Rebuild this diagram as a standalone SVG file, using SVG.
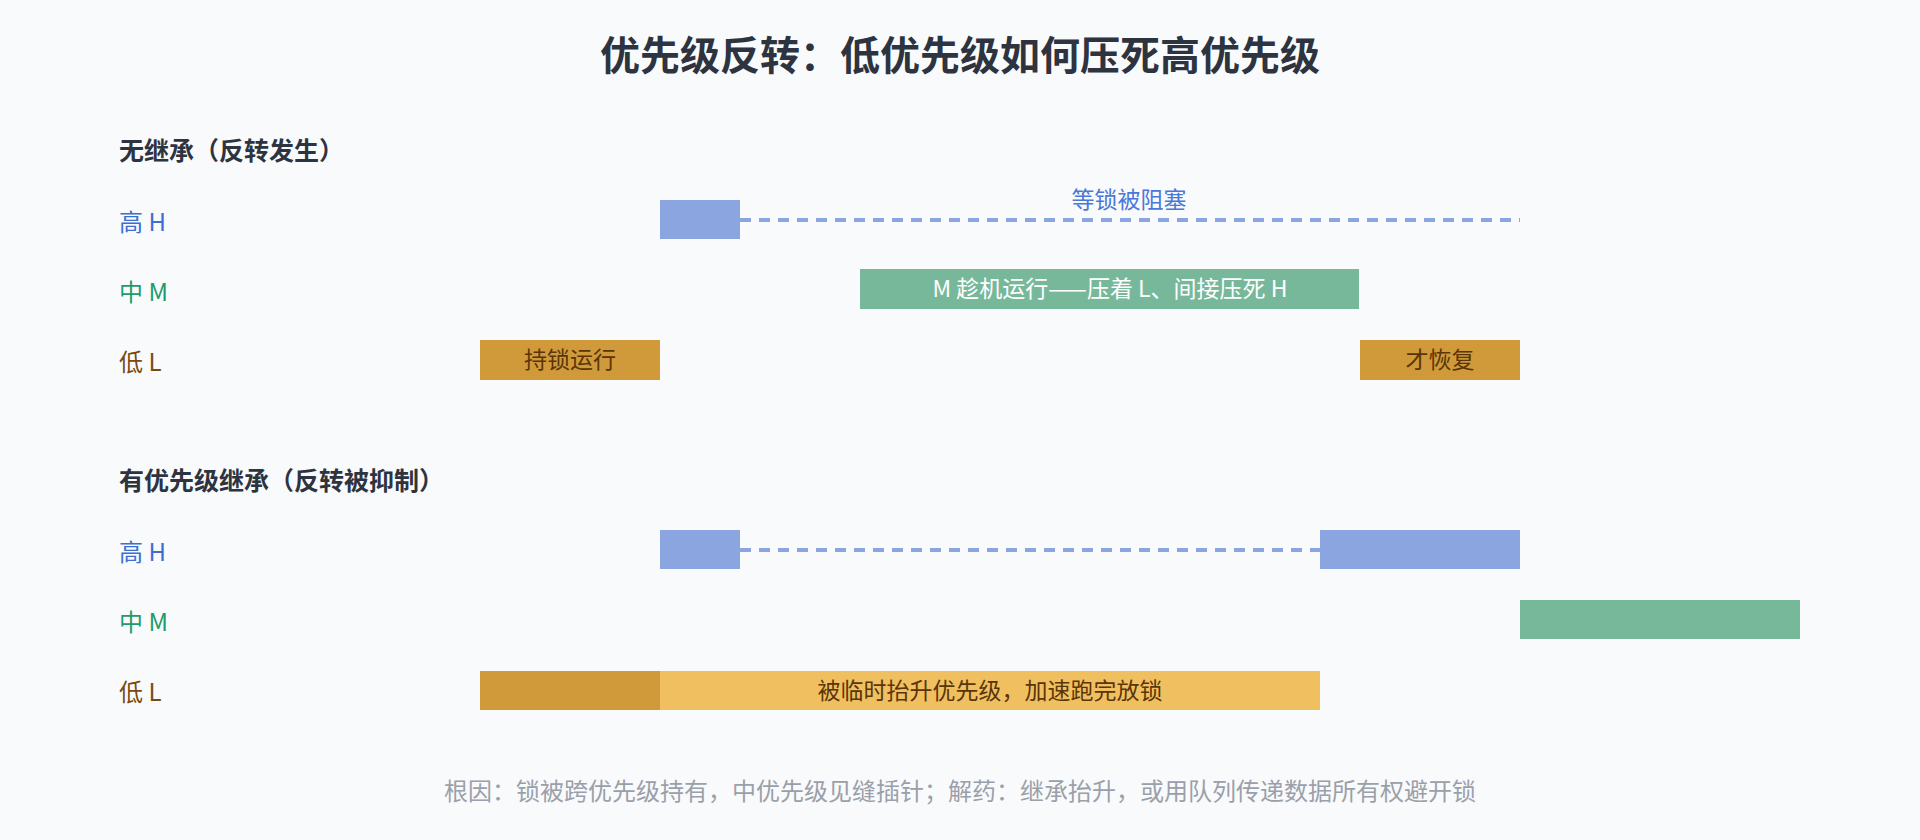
<svg xmlns="http://www.w3.org/2000/svg" width="1920" height="840" viewBox="0 0 1920 840">
<style>
text{font-family:"Noto Sans CJK SC","Noto Sans",sans-serif}
.title{font-size:40px;font-weight:bold;fill:#2d3440}
.sec{font-size:25px;font-weight:bold;fill:#2d3440}
.lh{font-size:24px;fill:#3b6fd0}
.lm{font-size:24px;fill:#1f9a6a}
.ll{font-size:24px;fill:#7a4a10}
.h{fill:#8ba5e0}.m{fill:#78b89a}.l{fill:#d09a3b}.l2{fill:#f0c060}
.bt{font-size:23px;text-anchor:middle}
.dash{stroke:#8ba5e0;stroke-width:4;stroke-dasharray:11 8;fill:none}
</style>
<rect width="1920" height="840" fill="#f9fafc"/>
<text class="title" x="960" y="70" text-anchor="middle">优先级反转：低优先级如何压死高优先级</text>
<g id="sec1">
<text class="sec" x="119" y="160">无继承（反转发生）</text>
<text class="lh" x="119" y="231">高 H</text>
<text class="lm" x="119" y="301">中 M</text>
<text class="ll" x="119" y="371">低 L</text>
</g>
<g id="connectors">
<line class="dash" x1="740" y1="220" x2="1520" y2="220"/>
<line class="dash" x1="740" y1="550" x2="1320" y2="550"/>
</g>
<g id="h1"><rect class="h" x="660" y="200" width="80" height="39"/></g>
<text x="1129" y="208" class="bt" fill="#4a78d8">等锁被阻塞</text>
<g id="m1"><rect class="m" x="860" y="269" width="499" height="40"/><text class="bt" x="1110" y="297" fill="#fff">M 趁机运行——压着 L、间接压死 H</text></g>
<g id="l1a"><rect class="l" x="480" y="340" width="180" height="40"/><text class="bt" x="570" y="368" fill="#5a3508">持锁运行</text></g>
<g id="l1b"><rect class="l" x="1360" y="340" width="160" height="40"/><text class="bt" x="1440" y="368" fill="#5a3508">才恢复</text></g>
<g id="sec2">
<text class="sec" x="119" y="490">有优先级继承（反转被抑制）</text>
<text class="lh" x="119" y="561">高 H</text>
<text class="lm" x="119" y="631">中 M</text>
<text class="ll" x="119" y="701">低 L</text>
</g>
<g id="h2a"><rect class="h" x="660" y="530" width="80" height="39"/></g>
<g id="h2b"><rect class="h" x="1320" y="530" width="200" height="39"/></g>
<g id="m2"><rect class="m" x="1520" y="600" width="280" height="39"/></g>
<g id="l2a"><rect class="l" x="480" y="671" width="180" height="39"/></g>
<g id="l2b"><rect class="l2" x="660" y="671" width="660" height="39"/><text class="bt" x="990" y="699" fill="#5a3508">被临时抬升优先级，加速跑完放锁</text></g>
<text x="960" y="800" text-anchor="middle" font-size="24" fill="#9aa0aa">根因：锁被跨优先级持有，中优先级见缝插针；解药：继承抬升，或用队列传递数据所有权避开锁</text>
</svg>
